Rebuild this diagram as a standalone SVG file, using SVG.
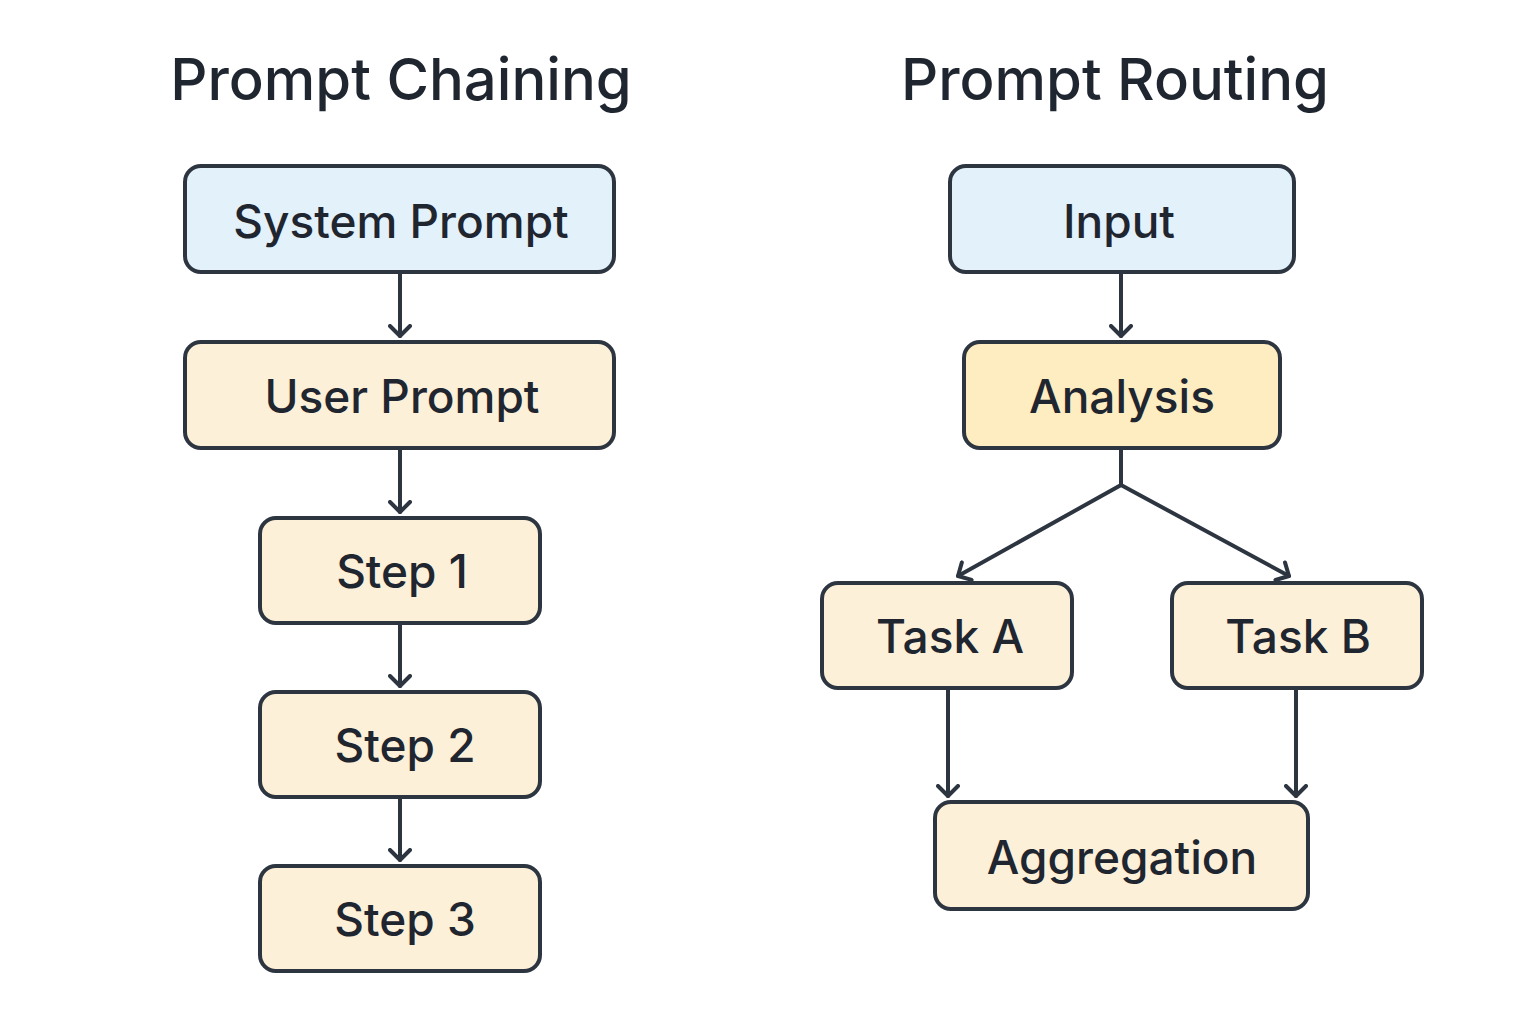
<svg xmlns="http://www.w3.org/2000/svg" width="1536" height="1024" viewBox="0 0 1536 1024">
<defs>
<marker id="arr" viewBox="-12 -12 24 24" markerWidth="24" markerHeight="24" refX="0" refY="0" orient="auto" markerUnits="userSpaceOnUse">
<path d="M-10,-10 L0,0 L-10,10" fill="none" stroke="#2d3540" stroke-width="4" stroke-linecap="round" stroke-linejoin="round"/>
</marker>
<style>
.title{font-family:Inter,"Noto Sans","Liberation Sans",sans-serif;font-size:58px;font-weight:500;fill:#1f2630;text-anchor:middle}
.box{stroke:#2d3540;stroke-width:4}
.blue{fill:#e3f1fb}
.cream{fill:#fdf0d8}
.yellow{fill:#fdedc0}
.lbl{font-family:Inter,"Noto Sans","Liberation Sans",sans-serif;font-size:46px;font-weight:500;fill:#1f2630;text-anchor:middle;dominant-baseline:central}
.c{fill:none;stroke:#2d3540;stroke-width:4;stroke-linecap:round}
</style>
</defs>
<rect width="1536" height="1024" fill="#ffffff"/>
<text class="title" x="401" y="100">Prompt Chaining</text>
<text class="title" x="1115" y="100">Prompt Routing</text>
<g id="connectors">
<line class="c" x1="400" y1="272" x2="400" y2="336" marker-end="url(#arr)"/>
<line class="c" x1="400" y1="448" x2="400" y2="512" marker-end="url(#arr)"/>
<line class="c" x1="400" y1="623" x2="400" y2="686" marker-end="url(#arr)"/>
<line class="c" x1="400" y1="797" x2="400" y2="860" marker-end="url(#arr)"/>
<line class="c" x1="1121" y1="272" x2="1121" y2="336" marker-end="url(#arr)"/>
<polyline class="c" points="1121,448 1121,485 958,576" marker-end="url(#arr)"/>
<polyline class="c" points="1121,485 1289,576" marker-end="url(#arr)"/>
<line class="c" x1="948" y1="688" x2="948" y2="796" marker-end="url(#arr)"/>
<line class="c" x1="1296" y1="688" x2="1296" y2="796" marker-end="url(#arr)"/>
</g>
<g id="system-prompt"><rect class="box blue" x="185" y="166" width="429" height="106" rx="16"/><text class="lbl" x="401" y="221">System Prompt</text></g>
<g id="user-prompt"><rect class="box cream" x="185" y="342" width="429" height="106" rx="16"/><text class="lbl" x="402" y="396">User Prompt</text></g>
<g id="step1"><rect class="box cream" x="260" y="518" width="280" height="105" rx="16"/><text class="lbl" x="402" y="571">Step 1</text></g>
<g id="step2"><rect class="box cream" x="260" y="692" width="280" height="105" rx="16"/><text class="lbl" x="405" y="745">Step 2</text></g>
<g id="step3"><rect class="box cream" x="260" y="866" width="280" height="105" rx="16"/><text class="lbl" x="405" y="919">Step 3</text></g>
<g id="input"><rect class="box blue" x="950" y="166" width="344" height="106" rx="16"/><text class="lbl" x="1119" y="221">Input</text></g>
<g id="analysis"><rect class="box yellow" x="964" y="342" width="316" height="106" rx="16"/><text class="lbl" x="1122" y="396">Analysis</text></g>
<g id="task-a"><rect class="box cream" x="822" y="583" width="250" height="105" rx="16"/><text class="lbl" x="950" y="636">Task A</text></g>
<g id="task-b"><rect class="box cream" x="1172" y="583" width="250" height="105" rx="16"/><text class="lbl" x="1298" y="636">Task B</text></g>
<g id="aggregation"><rect class="box cream" x="935" y="802" width="373" height="107" rx="16"/><text class="lbl" x="1122" y="857">Aggregation</text></g>
</svg>
